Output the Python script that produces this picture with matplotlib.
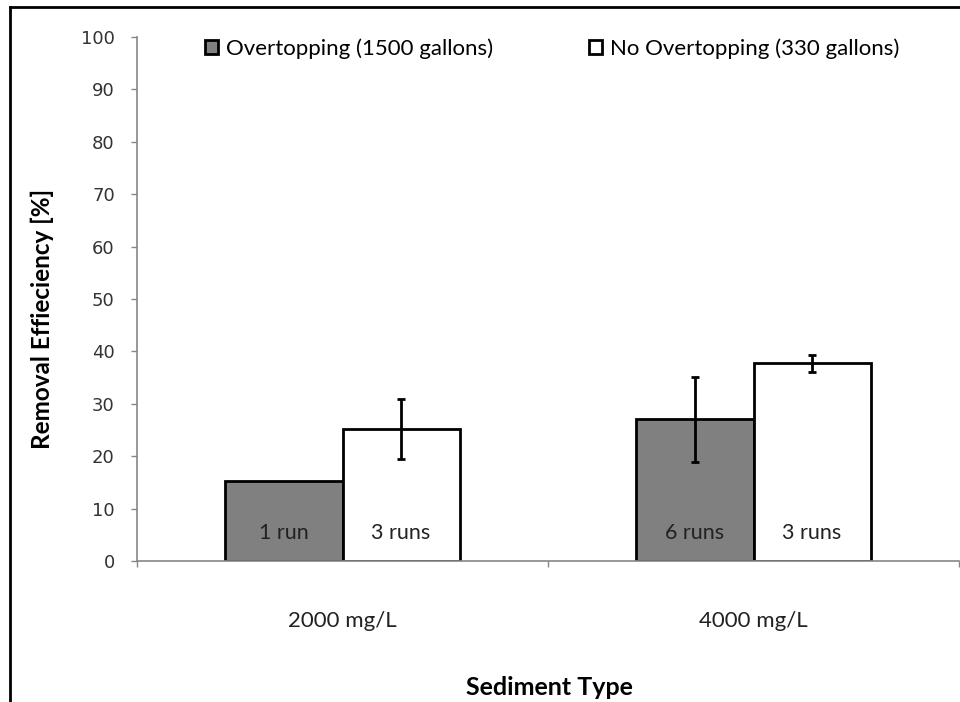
import matplotlib.pyplot as plt
from matplotlib.lines import Line2D
import numpy as np

# data
categories = ['2000 mg/L', '4000 mg/L']
series_names = ['Overtopping (1500 gallons)', 'No Overtopping (330 gallons)']
overtop_vals = [15.3, 27.0]
overtop_err = [0.0, 8.1]
no_overtop_vals = [25.2, 37.7]
no_overtop_err = [5.7, 1.6]
overtop_runs = ['1 run', '6 runs']
no_overtop_runs = ['3 runs', '3 runs']
y_ticks = list(range(0, 101, 10))

fig = plt.figure(figsize=(9.6, 7.02), dpi=100)
ax = fig.add_axes([0.1427, 0.2009, 0.8563, 0.7464])

x = np.arange(len(categories))
width = 0.285

ax.bar(x - width / 2, overtop_vals, width, color='#808080', edgecolor='black',
       linewidth=2, label=series_names[0], zorder=2)
ax.bar(x + width / 2, no_overtop_vals, width, color='white', edgecolor='black',
       linewidth=2, label=series_names[1], zorder=2)

# error bars (skip zero ones)
for xs, vals, errs in [(x - width / 2, overtop_vals, overtop_err),
                       (x + width / 2, no_overtop_vals, no_overtop_err)]:
    for xi, v, e in zip(xs, vals, errs):
        if e > 0:
            ax.errorbar(xi, v, yerr=e, fmt='none', ecolor='black', elinewidth=2,
                        capsize=3, capthick=2, zorder=3)

# run counts inside the bars
for xi, t in zip(x - width / 2, overtop_runs):
    ax.text(xi, 5.3, t, ha='center', va='center', fontsize=15.5, family='Lato', color='#222222')
for xi, t in zip(x + width / 2, no_overtop_runs):
    ax.text(xi, 5.3, t, ha='center', va='center', fontsize=15.5, family='Lato', color='#222222')

ax.set_xlim(-0.5, 1.5)
ax.set_ylim(0, 100)
ax.set_yticks(y_ticks)
ax.set_yticklabels([str(t) for t in y_ticks], family='DejaVu Sans', fontsize=13, color='#333333')

# category ticks sit on the group borders, labels in the middle
ax.set_xticks([-0.5, 0.5, 1.5])
ax.set_xticklabels([])
ax.set_xticks(x, minor=True)
ax.set_xticklabels(categories, minor=True, family='Lato', fontsize=16, color='#222222')
ax.tick_params(axis='x', which='minor', length=0, pad=36)
ax.tick_params(axis='x', which='major', length=4.5, color='#868686', width=1)
ax.tick_params(axis='y', length=4.5, color='#868686', width=1, pad=11.5)

for side in ['top', 'right']:
    ax.spines[side].set_visible(False)
for side in ['left', 'bottom']:
    ax.spines[side].set_color('#868686')
    ax.spines[side].set_linewidth(1.2)

fig.text(0.044, 0.545, 'Removal Effieciency [%]', rotation=90, ha='center', va='center',
         family='Lato', fontweight='bold', fontsize=17.5)
fig.text(0.572, 0.02, 'Sediment Type', ha='center', va='center', family='Lato',
         fontweight='bold', fontsize=18)

ax.legend(loc='upper left', bbox_to_anchor=(0.0586, 1.036), ncol=2, frameon=False,
          prop={'family': 'Lato', 'size': 16}, handlelength=0.6, handleheight=0.6,
          handletextpad=0.35, columnspacing=4.3)

# partial frame of the original picture
fig.add_artist(Line2D([0.0104, 0.0104], [0.0, 0.99], transform=fig.transFigure, color='black', linewidth=2))
fig.add_artist(Line2D([0.0104, 1.0], [0.99, 0.99], transform=fig.transFigure, color='black', linewidth=2))

fig.savefig('out.png', dpi=100)
